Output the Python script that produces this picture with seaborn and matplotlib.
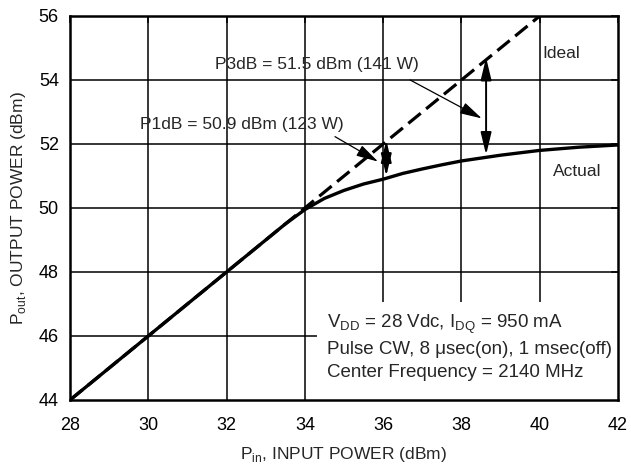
import matplotlib
matplotlib.use("Agg")
import matplotlib.pyplot as plt
from matplotlib.patches import Rectangle
import pandas as pd
import seaborn as sns

# values
ideal_pin = [28, 40]
ideal_pout = [44, 56]

actual_pin = [28, 30, 32, 33, 33.5, 34, 34.5, 35, 35.5, 36, 36.5, 37, 37.5, 38, 39, 40, 41, 42]
actual_pout = [44.0, 46.0, 48.0, 49.0, 49.5, 49.95, 50.3, 50.55, 50.75, 50.9, 51.08, 51.22,
               51.35, 51.47, 51.65, 51.8, 51.9, 51.97]

x_ticks = [28, 30, 32, 34, 36, 38, 40, 42]
y_ticks = [44, 46, 48, 50, 52, 54, 56]

p1db_label = "P1dB = 50.9 dBm (123 W)"
p3db_label = "P3dB = 51.5 dBm (141 W)"
spec_lines = [r"V$_{\mathregular{DD}}$ = 28 Vdc, I$_{\mathregular{DQ}}$ = 950 mA",
              "Pulse CW, 8 \u03bcsec(on), 1 msec(off)",
              "Center Frequency = 2140 MHz"]

sns.set_style("white")
plt.rcParams["font.family"] = ["Liberation Sans", "DejaVu Sans"]
plt.rcParams["mathtext.fontset"] = "custom"
plt.rcParams["mathtext.rm"] = "Liberation Sans"
plt.rcParams["font.size"] = 12.5

fig = plt.figure(figsize=(6.31, 4.67), dpi=100)
ax = fig.add_axes([70 / 631, 67 / 467, 548 / 631, 384 / 467])

ideal = pd.DataFrame({"pin": ideal_pin, "pout": ideal_pout})
actual = pd.DataFrame({"pin": actual_pin, "pout": actual_pout})

# grid drawn by hand so the spec box can hide it but not the ticks
for x in x_ticks[1:-1]:
    ax.axvline(x, color="black", lw=1.1, zorder=0.5)
for y in y_ticks[1:-1]:
    ax.axhline(y, color="black", lw=1.1, zorder=0.5)

sns.lineplot(data=ideal, x="pin", y="pout", ax=ax, color="black", lw=2.3, zorder=3)
ax.lines[-1].set_dashes([5, 2.2])
sns.lineplot(data=actual, x="pin", y="pout", ax=ax, color="black", lw=2.4, zorder=3)

# white box behind the test conditions
ax.add_patch(Rectangle((34.31, 44), 42 - 34.31, 47.06 - 44, facecolor="white",
                       edgecolor="none", zorder=1))
ax.text(34.57, 46.74, "\n".join(spec_lines), ha="left", va="top", fontsize=13.5,
        linespacing=1.42, zorder=4)

# double-headed arrows between ideal and actual
dbl = dict(arrowstyle="<|-|>,head_length=0.75,head_width=0.18", color="black",
           lw=1.4, shrinkA=0, shrinkB=0, mutation_scale=18)
ax.annotate("", xy=(36.08, 52.12), xytext=(36.08, 51.0), arrowprops=dbl, zorder=4)
ax.annotate("", xy=(38.63, 54.7), xytext=(38.63, 51.66), arrowprops=dbl, zorder=4)

one = dict(arrowstyle="-|>,head_length=0.75,head_width=0.2", color="black",
           lw=0.9, shrinkA=0, shrinkB=0, mutation_scale=18)
ax.annotate("", xy=(35.87, 51.45), xytext=(34.77, 52.23), arrowprops=one, zorder=4)
ax.annotate("", xy=(38.52, 52.8), xytext=(36.69, 54.0), arrowprops=one, zorder=4)

ax.text(32.38, 52.6, p1db_label, ha="center", va="center", fontsize=12.5, zorder=4)
ax.text(34.3, 54.5, p3db_label, ha="center", va="center", fontsize=12.5, zorder=4)
ax.text(40.08, 54.83, "Ideal", ha="left", va="center", fontsize=12.5, zorder=4)
ax.text(40.34, 51.13, "Actual", ha="left", va="center", fontsize=12.5, zorder=4)

ax.set_xlim(28, 42)
ax.set_ylim(44, 56)
ax.set_xticks(x_ticks)
ax.set_yticks(y_ticks)
ax.tick_params(direction="in", length=5, width=1.1, top=True, right=True,
               labelsize=13, pad=8, colors="black")
ax.tick_params(axis="x", pad=12)
for s in ax.spines.values():
    s.set_linewidth(1.8)
    s.set_color("black")
    s.set_zorder(5)

ax.set_xlabel(r"P$_{\mathregular{in}}$, INPUT POWER (dBm)", fontsize=12.5, labelpad=8)
ax.set_ylabel(r"P$_{\mathregular{out}}$, OUTPUT POWER (dBm)", fontsize=12.5, labelpad=8)

fig.savefig("out.png", dpi=100)
